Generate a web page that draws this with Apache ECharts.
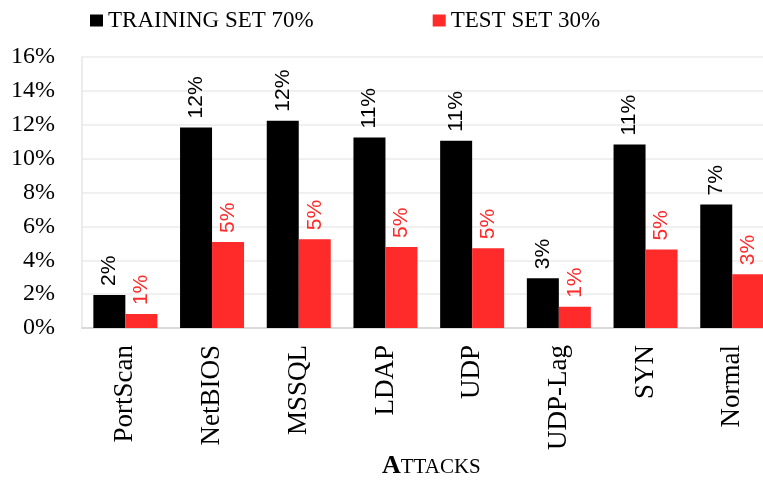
<!DOCTYPE html>
<html>
<head>
<meta charset="utf-8">
<style>
  html, body { margin: 0; padding: 0; background: #fff; }
  #chart { width: 763px; height: 480px; }
</style>
<script src="https://cdn.jsdelivr.net/npm/echarts@6/dist/echarts.min.js"></script>
</head>
<body>
<div id="chart"></div>
<script>
// Share of each traffic class in the training and test splits (percent)
const categories = ['PortScan', 'NetBIOS', 'MSSQL', 'LDAP', 'UDP', 'UDP-Lag', 'SYN', 'Normal'];
const trainingSet = [1.95, 11.84, 12.24, 11.25, 11.06, 2.94, 10.84, 7.29];
const testSet = [0.82, 5.08, 5.24, 4.78, 4.71, 1.25, 4.63, 3.18];
const seriesNames = ['TRAINING SET 70%', 'TEST SET 30%'];
const yTicks = { min: 0, max: 16, interval: 2 };

const serif = '"Liberation Serif", "Times New Roman", serif';
const sans = '"Liberation Sans", Arial, sans-serif';

const chart = echarts.init(document.getElementById('chart'), null, { renderer: 'canvas' });

function barLabel(color) {
  return {
    show: true,
    position: 'top',
    rotate: 90,
    align: 'left',
    verticalAlign: 'middle',
    distance: 9,
    color: color,
    fontFamily: sans,
    fontSize: 21,
    formatter: p => Math.round(p.value) + '%'
  };
}

chart.setOption({
  animation: false,
  backgroundColor: '#ffffff',
  title: {
    text: '{a|A}{b|TTACKS}',
    left: 382,
    top: 451,
    padding: 0,
    textStyle: {
      fontWeight: 'normal',
      rich: {
        a: { fontFamily: serif, fontSize: 26, fontWeight: 'bold', color: '#000', lineHeight: 28, verticalAlign: 'bottom' },
        b: { fontFamily: serif, fontSize: 21, fontWeight: 'normal', color: '#000', lineHeight: 28, verticalAlign: 'bottom', padding: [0, 0, 1, 0] }
      }
    }
  },
  legend: {
    left: 85,
    top: 4,
    itemWidth: 13,
    itemHeight: 12,
    itemGap: 119,
    icon: 'rect',
    textStyle: { fontFamily: serif, fontSize: 23, color: '#000' },
    data: seriesNames
  },
  grid: {
    left: 82,
    top: 57,
    width: 693.6,
    bottom: 152,
    outerBoundsMode: 'none',
    containLabel: false
  },
  xAxis: {
    type: 'category',
    data: categories,
    axisLine: { show: true, lineStyle: { color: '#d9d9d9', width: 2 } },
    axisTick: { show: false },
    axisLabel: {
      rotate: 90,
      margin: 17,
      fontFamily: serif,
      fontSize: 27,
      color: '#000'
    }
  },
  yAxis: {
    type: 'value',
    min: yTicks.min,
    max: yTicks.max,
    interval: yTicks.interval,
    axisLine: { show: true, lineStyle: { color: '#e6e6e6', width: 1.5 } },
    axisTick: { show: false },
    splitLine: { show: true, lineStyle: { color: '#ebebeb', width: 1.5 } },
    axisLabel: {
      formatter: '{value}%',
      margin: 27,
      fontFamily: serif,
      fontSize: 24,
      color: '#000'
    }
  },
  series: [
    {
      name: seriesNames[0],
      type: 'bar',
      data: trainingSet,
      barWidth: 32,
      barGap: '0%',
      itemStyle: { color: '#000000' },
      label: barLabel('#000000')
    },
    {
      name: seriesNames[1],
      type: 'bar',
      data: testSet,
      barWidth: 32,
      barGap: '0%',
      itemStyle: { color: '#ff2a2a' },
      label: barLabel('#ff2a2a')
    }
  ]
});
</script>
</body>
</html>
